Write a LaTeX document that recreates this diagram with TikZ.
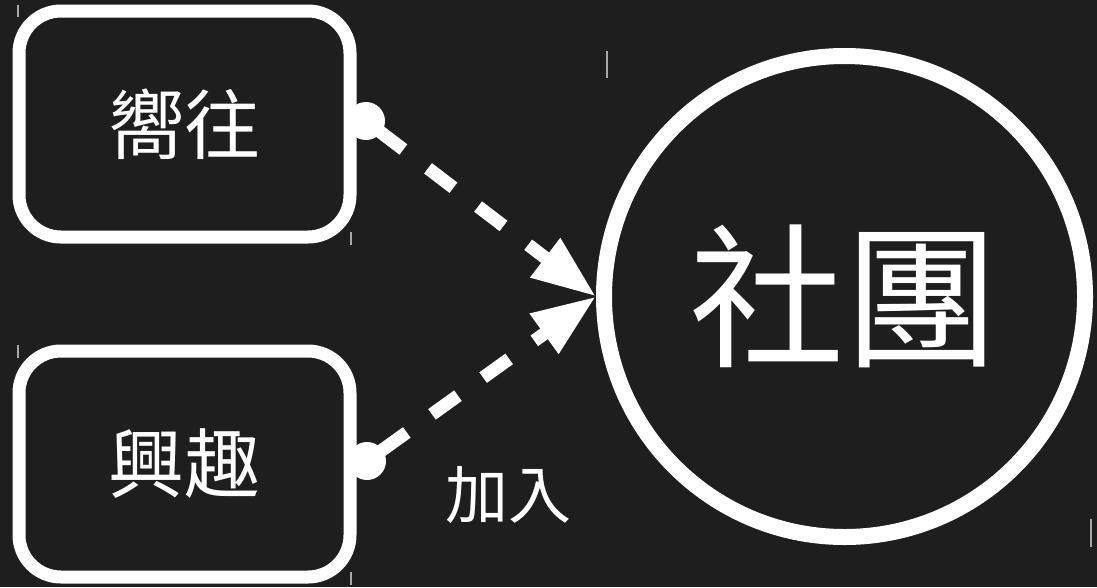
\documentclass[tikz,border=0pt]{standalone}
\usepackage{fontspec}
\newfontfamily\cjk{Noto Sans CJK TC}
\usetikzlibrary{arrows.meta,shapes.geometric}
\definecolor{bg}{HTML}{1E1E1E}
\definecolor{tick}{HTML}{A8A8A8}
\tikzset{
  box/.style={draw=white, line width=13pt, rounded corners=42pt, minimum width=331pt, minimum height=226pt, inner sep=0pt, text=white, font=\cjk\fontsize{76}{84}\selectfont},
  club/.style={circle, draw=white, line width=16pt, minimum size=481pt, inner sep=0pt, text=white, font=\cjk\fontsize{155}{165}\selectfont},
  dot/.style={circle, fill=white, minimum size=38pt, inner sep=0pt},
  link/.style={draw=white, line width=13pt, dash pattern=on 32pt off 31pt, -{Triangle[length=64pt,width=46pt]}},
  lbl/.style={text=white, font=\cjk\fontsize{63}{69}\selectfont, inner sep=0pt},
  tickmark/.style={draw=tick, line width=2pt}
}
\begin{document}
\begin{tikzpicture}[x=1pt,y=-1pt]
\fill[bg] (0,0) rectangle (1097,587);
\useasboundingbox (0,0) rectangle (1097,587);
% thin marks
\draw[tickmark] (18,5) -- (18,17);
\draw[tickmark] (607,51) -- (607,78);
\draw[tickmark] (351,232) -- (351,245);
\draw[tickmark] (18,345) -- (18,358);
\draw[tickmark] (351,572) -- (351,585);
\draw[tickmark] (1091,519) -- (1091,547);
% nodes
\node[box] (yearn) at (184.5,124) {嚮往};
\node[box] (interest) at (184.5,464) {興趣};
\node[club] (soc) at (844.5,296.5) {社團};
\node[dot] (d1) at (366,121) {};
\node[dot] (d2) at (367,461) {};
% connectors
\draw[link, dash phase=48pt] (d1.center) -- (soc.west);
\draw[link, dash phase=46pt] (d2.center) -- (soc.west);
\node[lbl] (join) at (508,495) {加入};
\end{tikzpicture}
\end{document}
